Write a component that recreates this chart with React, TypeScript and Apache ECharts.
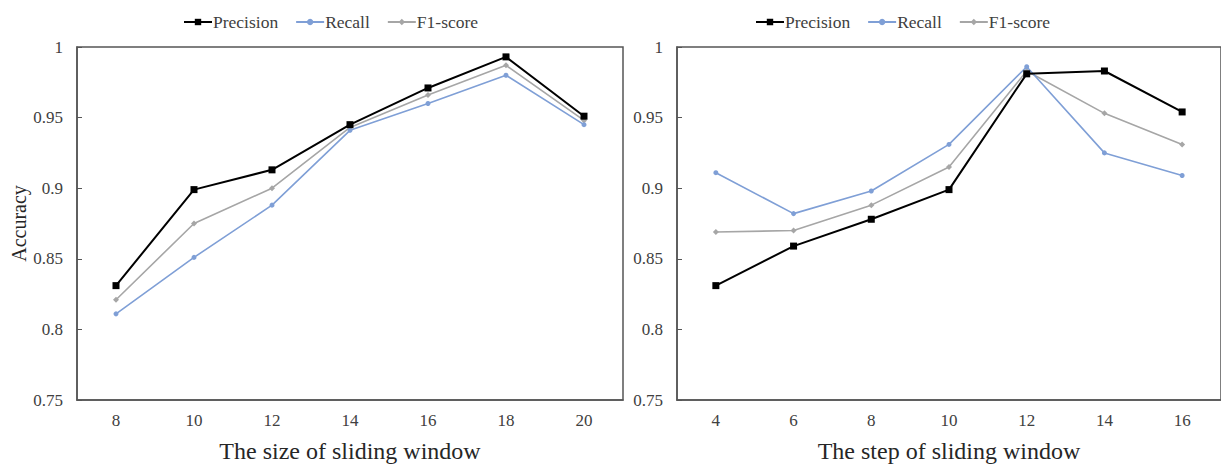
import React, { useEffect, useRef } from "react";
import * as echarts from "echarts";

const sizeCategories = ["8", "10", "12", "14", "16", "18", "20"];
const sizePrecision = [0.831, 0.899, 0.913, 0.945, 0.971, 0.993, 0.951];
const sizeRecall = [0.811, 0.851, 0.888, 0.941, 0.96, 0.98, 0.945];
const sizeF1 = [0.821, 0.875, 0.9, 0.943, 0.966, 0.987, 0.948];

const stepCategories = ["4", "6", "8", "10", "12", "14", "16"];
const stepPrecision = [0.831, 0.859, 0.878, 0.899, 0.981, 0.983, 0.954];
const stepRecall = [0.911, 0.882, 0.898, 0.931, 0.986, 0.925, 0.909];
const stepF1 = [0.869, 0.87, 0.888, 0.915, 0.983, 0.953, 0.931];

const seriesNames = ["Precision", "Recall", "F1-score"];
const xNames = ["The size of sliding window", "The step of sliding window"];
const yName = "Accuracy";

const FONT = "Liberation Serif";
const AXIS_COLOR = "#555555";
const COLORS = ["#000000", "#7f9fd6", "#a6a6a6"];
const SYMBOLS = ["rect", "circle", "diamond"];
const SYMBOL_SIZES = [7, 5, 6];

export default function App() {
  const ref = useRef<HTMLDivElement>(null);
  useEffect(() => {
    document.body.style.margin = "0";
    const chart = echarts.init(ref.current!, null, { renderer: "svg" });
    const grids = [
      { left: 77, top: 47, width: 546, height: 353 },
      { left: 677, top: 47, width: 548, height: 353 },
    ];
    const cats = [sizeCategories, stepCategories];
    const data = [
      [sizePrecision, sizeRecall, sizeF1],
      [stepPrecision, stepRecall, stepF1],
    ];
    const series: any[] = [];
    data.forEach((group, gi) => {
      group.forEach((vals, si) => {
        series.push({
          type: "line",
          name: seriesNames[si],
          xAxisIndex: gi,
          yAxisIndex: gi,
          data: vals,
          symbol: SYMBOLS[si],
          symbolSize: SYMBOL_SIZES[si],
          showSymbol: true,
          z: 10 - si,
          lineStyle: { color: COLORS[si], width: si === 0 ? 2 : 1.6 },
          itemStyle: { color: COLORS[si] },
        });
      });
    });
    const textStyle = { fontFamily: FONT, color: "#404040" };
    chart.setOption({
      animation: false,
      grid: grids.map((g) => ({
        ...g,
        show: true,
        borderColor: AXIS_COLOR,
        borderWidth: 1.5,
        backgroundColor: "transparent",
      })),
      legend: [
        { left: 178, top: 8 },
        { left: 750, top: 8 },
      ].map((p) => ({
        ...p,
        data: seriesNames,
        itemWidth: 28,
        itemHeight: 8,
        itemGap: 17,
        textStyle: { fontFamily: FONT, fontSize: 17.5, color: "#404040", padding: [0, 0, 0, -4] },
      })),
      xAxis: [0, 1].map((i) => ({
        type: "category",
        gridIndex: i,
        data: cats[i],
        boundaryGap: true,
        name: xNames[i],
        nameLocation: "middle",
        nameGap: 39,
        nameTextStyle: { ...textStyle, fontSize: 24, color: "#262626" },
        axisLine: { lineStyle: { color: AXIS_COLOR, width: 1.5 } },
        axisTick: { inside: true, length: 6, lineStyle: { color: AXIS_COLOR } },
        axisLabel: { ...textStyle, fontSize: 17, margin: 12 },
        splitLine: { show: false },
      })),
      yAxis: [0, 1].map((i) => ({
        type: "value",
        gridIndex: i,
        min: 0.75,
        max: 1,
        interval: 0.05,
        name: i === 0 ? yName : "",
        nameLocation: "middle",
        nameGap: 48,
        nameTextStyle: { ...textStyle, fontSize: 20, color: "#262626" },
        axisLine: { show: true, lineStyle: { color: AXIS_COLOR, width: 1.5 } },
        axisTick: { show: true, inside: true, length: 5, lineStyle: { color: AXIS_COLOR } },
        axisLabel: { ...textStyle, fontSize: 17, margin: 14 },
        splitLine: { show: false },
      })),
      series,
    });
    return () => chart.dispose();
  }, []);
  return <div ref={ref} style={{ width: 1221, height: 468 }} />;
}
